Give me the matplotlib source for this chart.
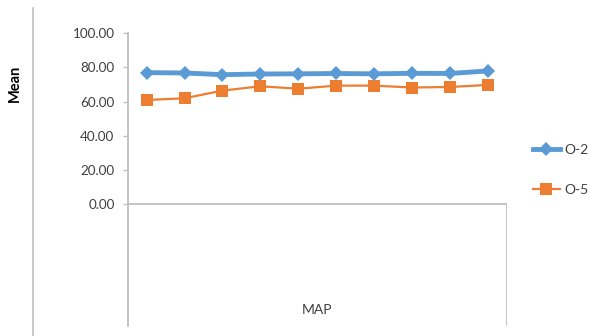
import matplotlib
matplotlib.use("Agg")
import matplotlib.pyplot as plt
from matplotlib.lines import Line2D
from matplotlib.ticker import FormatStrFormatter

plt.rcParams['font.family'] = ['Lato', 'DejaVu Sans']

categories = list(range(1, 11))
o2_values = [77.0, 76.8, 75.8, 76.2, 76.3, 76.5, 76.3, 76.6, 76.5, 78.0]
o5_values = [61.0, 62.0, 66.5, 69.0, 67.6, 69.4, 69.4, 68.3, 68.6, 69.8]
yticks = [0, 20, 40, 60, 80, 100]
series_names = ["O-2", "O-5"]
x_title = "MAP"
y_title = "Mean"

W, H = 590, 336
fig = plt.figure(figsize=(W / 100, H / 100), dpi=100)
fig.patch.set_facecolor("white")

ax_left, ax_right = 127.7 / W, 506.7 / W
ax_top, ax_bot = 1 - 33.3 / H, 1 - 326 / H
ax = fig.add_axes([ax_left, ax_bot, ax_right - ax_left, ax_top - ax_bot])

ylow = -(326 - 204.3) / 1.71
ax.set_ylim(ylow, 100)
ax.set_xlim(-0.5, len(categories) - 0.5)

xs = list(range(len(categories)))
gray = "#BFBFBF"
text_col = "#404040"

l1, = ax.plot(xs, o2_values, color="#5B9BD5", lw=3.5, marker="D", ms=7,
              markeredgewidth=0, label=series_names[0], zorder=4)
l2, = ax.plot(xs, o5_values, color="#ED7D31", lw=1.6, marker="s", ms=8.3,
              markeredgewidth=0, label=series_names[1], zorder=3)

for s in ["top", "right", "bottom"]:
    ax.spines[s].set_visible(False)
ax.spines["left"].set_color(gray)
ax.spines["left"].set_linewidth(1.3)
ax.spines["left"].set_bounds(ylow, 100)

ax.axhline(0, color=gray, lw=1.3, zorder=1)
ax.axvline(len(categories) - 0.5, ymin=0, ymax=(0 - ylow) / (100 - ylow),
           color=gray, lw=1.3)

ax.set_yticks(yticks)
ax.yaxis.set_major_formatter(FormatStrFormatter("%.2f"))
ax.tick_params(axis="y", direction="out", length=3.5, width=1, color=gray,
               labelsize=9.7, labelcolor=text_col, pad=6)
ax.set_xticks([])

ax.text((len(categories) - 1) / 2, -62, x_title, ha="center", va="center",
        fontsize=10, color=text_col)

fig.text(15 / W, 1 - 83 / H, y_title, rotation=90, ha="center", va="center",
         fontsize=10.5, fontweight="bold", color="black")

fig.add_artist(Line2D([33.3 / W, 33.3 / W], [0, 1 - 8 / H], color=gray, lw=1.2))

leg = ax.legend(handles=[l1, l2], loc="center left",
                bbox_to_anchor=(527 / W, 1 - 170 / H), bbox_transform=fig.transFigure,
                frameon=False, fontsize=10, labelspacing=2.0, handlelength=2.0,
                handletextpad=0.3, borderaxespad=0)
for t in leg.get_texts():
    t.set_color(text_col)

fig.savefig("out.png", dpi=100, facecolor="white")
